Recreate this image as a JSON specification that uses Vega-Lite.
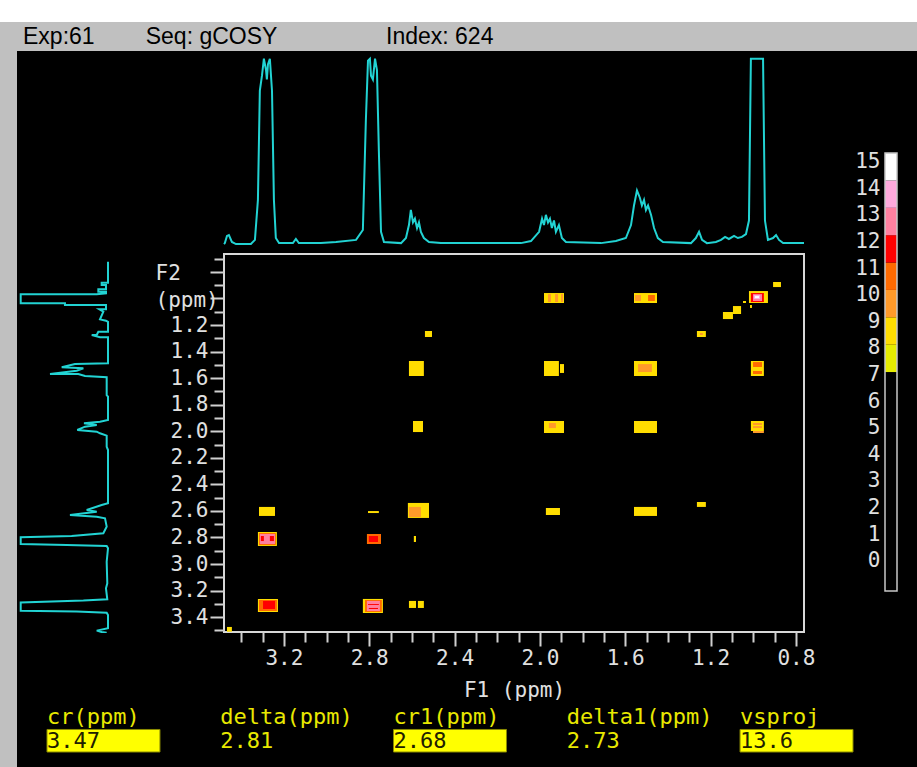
{
  "$schema": "https://vega.github.io/schema/vega-lite/v6.json",
  "background": "#000000",
  "padding": 0,
  "spacing": 0,
  "config": {"view": {"stroke": null}, "axis": {"grid": false}},
  "vconcat": [
    {"width": 917, "height": 22, "data": {"values": []}, "mark": "point", "view": {"fill": "#ffffff", "stroke": null}},
    {"width": 917, "height": 29, "view": {"fill": "#c0c0c0", "stroke": null},
     "data": {"values": [{"t": "Exp:61\u00a0\u00a0\u00a0\u00a0\u00a0\u00a0\u00a0\u00a0Seq: gCOSY\u00a0\u00a0\u00a0\u00a0\u00a0\u00a0\u00a0\u00a0\u00a0\u00a0\u00a0\u00a0\u00a0\u00a0\u00a0\u00a0\u00a0Index: 624"}]},
     "mark": {"type": "text", "align": "left", "baseline": "middle", "font": "Liberation Sans", "fontSize": 23, "color": "#000000"},
     "encoding": {
       "x": {"field": "t", "type": "nominal", "bandPosition": 0, "scale": {"type": "band", "paddingInner": 0, "paddingOuter": 0.0264}, "axis": null},
       "text": {"field": "t"}
     }},
    {"hconcat": [
      {"width": 17, "height": 655, "data": {"values": []}, "mark": "point", "view": {"fill": "#c0c0c0", "stroke": null}},
      {"width": 96, "height": 582,
       "data": {"values": [
         {"i":1,"ppm":0.716,"v":0},{"i":2,"ppm":0.874,"v":0},{"i":3,"ppm":0.874,"v":7.2},{"i":4,"ppm":0.891,"v":7.2},
         {"i":5,"ppm":0.891,"v":2.3},{"i":6,"ppm":0.924,"v":2.3},{"i":7,"ppm":0.924,"v":11},{"i":8,"ppm":0.942,"v":11},
         {"i":9,"ppm":0.942,"v":2.3},{"i":10,"ppm":0.954,"v":2.3},{"i":11,"ppm":0.961,"v":12.8},{"i":12,"ppm":0.961,"v":99.2},
         {"i":13,"ppm":1.029,"v":99.2},{"i":14,"ppm":1.029,"v":48.9},{"i":15,"ppm":1.042,"v":48.9},{"i":16,"ppm":1.042,"v":2.3},
         {"i":17,"ppm":1.074,"v":2.3},{"i":18,"ppm":1.074,"v":9.9},{"i":19,"ppm":1.092,"v":5.3},{"i":20,"ppm":1.150,"v":9.1},
         {"i":21,"ppm":1.160,"v":2.3},{"i":22,"ppm":1.168,"v":0},{"i":23,"ppm":1.243,"v":0},{"i":24,"ppm":1.243,"v":11},
         {"i":25,"ppm":1.268,"v":12.8},{"i":26,"ppm":1.268,"v":18.5},{"i":27,"ppm":1.285,"v":9.1},{"i":28,"ppm":1.285,"v":0},
         {"i":29,"ppm":1.481,"v":0},{"i":30,"ppm":1.486,"v":37.5},{"i":31,"ppm":1.511,"v":52.6},{"i":32,"ppm":1.519,"v":28},
         {"i":33,"ppm":1.537,"v":35.6},{"i":34,"ppm":1.561,"v":65.9},{"i":35,"ppm":1.561,"v":33.7},{"i":36,"ppm":1.577,"v":26.1},
         {"i":37,"ppm":1.586,"v":1.5},{"i":38,"ppm":1.720,"v":1.5},{"i":39,"ppm":1.732,"v":0},{"i":40,"ppm":1.908,"v":0},
         {"i":41,"ppm":1.921,"v":9.1},{"i":42,"ppm":1.933,"v":27.3},{"i":43,"ppm":1.945,"v":12.8},{"i":44,"ppm":1.958,"v":26.1},
         {"i":45,"ppm":1.983,"v":34.9},{"i":46,"ppm":1.996,"v":12.8},{"i":47,"ppm":2.008,"v":9.1},{"i":48,"ppm":2.026,"v":1.5},
         {"i":49,"ppm":2.109,"v":1.5},{"i":50,"ppm":2.134,"v":0},{"i":51,"ppm":2.535,"v":0},{"i":52,"ppm":2.548,"v":7.2},
         {"i":53,"ppm":2.586,"v":24.2},{"i":54,"ppm":2.598,"v":12.8},{"i":55,"ppm":2.623,"v":43.2},{"i":56,"ppm":2.636,"v":12.8},
         {"i":57,"ppm":2.648,"v":3.4},{"i":58,"ppm":2.711,"v":1.5},{"i":59,"ppm":2.761,"v":5.3},{"i":60,"ppm":2.781,"v":41.3},
         {"i":61,"ppm":2.791,"v":99.2},{"i":62,"ppm":2.841,"v":99.2},{"i":63,"ppm":2.849,"v":46.9},{"i":64,"ppm":2.857,"v":1.5},
         {"i":65,"ppm":2.874,"v":0},{"i":66,"ppm":2.975,"v":1.5},{"i":67,"ppm":3.138,"v":0.8},{"i":68,"ppm":3.175,"v":2.3},
         {"i":69,"ppm":3.258,"v":0.8},{"i":70,"ppm":3.268,"v":28},{"i":71,"ppm":3.283,"v":99.2},{"i":72,"ppm":3.344,"v":99.2},
         {"i":73,"ppm":3.351,"v":35.6},{"i":74,"ppm":3.359,"v":1.5},{"i":75,"ppm":3.376,"v":0},{"i":76,"ppm":3.476,"v":0},
         {"i":77,"ppm":3.494,"v":12.8},{"i":78,"ppm":3.505,"v":7.2},{"i":79,"ppm":3.51,"v":1.5}
       ]},
       "mark": {"type": "line", "color": "#22d3d3", "strokeWidth": 2, "clip": true},
       "encoding": {
         "x": {"field": "v", "type": "quantitative", "scale": {"domain": [-5.68, 103.4], "reverse": true, "nice": false, "zero": false}, "axis": null},
         "y": {"field": "ppm", "type": "quantitative", "scale": {"domain": [-0.871, 3.512], "reverse": true, "nice": false, "zero": false}, "axis": null},
         "order": {"field": "i", "type": "quantitative"}
       }},
      {"vconcat": [
        {"width": 580, "height": 194,
         "data": {"values": [
           {"x":3.481,"v":0.5},{"x":3.477,"v":1},{"x":3.467,"v":4.8},{"x":3.458,"v":5.3},{"x":3.444,"v":1.6},{"x":3.425,"v":0.5},
           {"x":3.355,"v":0.5},{"x":3.336,"v":2.7},{"x":3.322,"v":24},{"x":3.313,"v":82},{"x":3.303,"v":90},{"x":3.294,"v":99},
           {"x":3.284,"v":93},{"x":3.280,"v":88},{"x":3.275,"v":96},{"x":3.266,"v":99},{"x":3.256,"v":82},{"x":3.247,"v":24},
           {"x":3.238,"v":3.7},{"x":3.223,"v":1},{"x":3.158,"v":1},{"x":3.144,"v":3.2},{"x":3.130,"v":1},{"x":3.027,"v":1},
           {"x":2.956,"v":1.6},{"x":2.862,"v":2.7},{"x":2.830,"v":8},{"x":2.816,"v":66},{"x":2.806,"v":98},{"x":2.797,"v":99},
           {"x":2.792,"v":90},{"x":2.783,"v":88},{"x":2.773,"v":99},{"x":2.764,"v":93},{"x":2.755,"v":50},{"x":2.745,"v":7},
           {"x":2.731,"v":1.6},{"x":2.651,"v":1},{"x":2.628,"v":3.7},{"x":2.614,"v":10.6},{"x":2.605,"v":18.6},{"x":2.595,"v":12},
           {"x":2.586,"v":14},{"x":2.576,"v":9},{"x":2.567,"v":12},{"x":2.558,"v":7},{"x":2.544,"v":3.7},{"x":2.520,"v":1.6},
           {"x":2.464,"v":1},{"x":2.089,"v":1},{"x":2.042,"v":2.1},{"x":2.004,"v":7},{"x":1.990,"v":14},{"x":1.981,"v":10.6},
           {"x":1.972,"v":16},{"x":1.962,"v":12},{"x":1.953,"v":14},{"x":1.944,"v":9},{"x":1.934,"v":13},{"x":1.925,"v":7},
           {"x":1.911,"v":10.6},{"x":1.897,"v":3.7},{"x":1.878,"v":1.6},{"x":1.714,"v":1},{"x":1.644,"v":2.1},{"x":1.597,"v":3.7},
           {"x":1.573,"v":10.6},{"x":1.559,"v":21},{"x":1.545,"v":29},{"x":1.531,"v":25},{"x":1.522,"v":21},{"x":1.512,"v":24},
           {"x":1.503,"v":18.6},{"x":1.493,"v":21},{"x":1.479,"v":16},{"x":1.465,"v":9},{"x":1.447,"v":3.7},{"x":1.423,"v":1.6},
           {"x":1.292,"v":1},{"x":1.269,"v":3.7},{"x":1.254,"v":7},{"x":1.240,"v":2.7},{"x":1.217,"v":1},{"x":1.175,"v":1.6},
           {"x":1.151,"v":2.7},{"x":1.132,"v":4.3},{"x":1.114,"v":3.2},{"x":1.090,"v":4.8},{"x":1.072,"v":3.7},{"x":1.053,"v":4.3},
           {"x":1.034,"v":5.8},{"x":1.020,"v":13},{"x":1.011,"v":99},{"x":0.954,"v":99},{"x":0.945,"v":13},{"x":0.931,"v":2.7},
           {"x":0.907,"v":3.7},{"x":0.893,"v":5.3},{"x":0.879,"v":2.7},{"x":0.860,"v":1},{"x":0.762,"v":1}
         ]},
         "mark": {"type": "line", "color": "#22d3d3", "strokeWidth": 2},
         "encoding": {
           "x": {"field": "x", "type": "quantitative", "scale": {"domain": [0.762, 3.481], "reverse": true, "nice": false, "zero": false}, "axis": null},
           "y": {"field": "v", "type": "quantitative", "scale": {"domain": [0, 103.1], "nice": false, "zero": false}, "axis": null}
         }},
        {"width": 580, "height": 378,
         "view": {"stroke": "#d8d8d8", "strokeWidth": 2},
         "data": {"values": [
           {"x1":2.539,"x2":2.506,"y1":1.245,"y2":1.290,"lev":9},
           {"x1":2.614,"x2":2.544,"y1":1.471,"y2":1.584,"lev":9},
           {"x1":2.595,"x2":2.548,"y1":1.923,"y2":2.006,"lev":9},
           {"x1":1.981,"x2":1.887,"y1":0.959,"y2":1.034,"lev":9},
           {"x1":1.559,"x2":1.451,"y1":0.959,"y2":1.034,"lev":9},
           {"x1":1.020,"x2":0.931,"y1":0.944,"y2":1.034,"lev":9},
           {"x1":0.907,"x2":0.870,"y1":0.876,"y2":0.914,"lev":9},
           {"x1":1.142,"x2":1.095,"y1":1.102,"y2":1.155,"lev":9},
           {"x1":1.095,"x2":1.057,"y1":1.057,"y2":1.117,"lev":9},
           {"x1":1.048,"x2":1.034,"y1":1.019,"y2":1.034,"lev":9},
           {"x1":1.015,"x2":1.006,"y1":1.049,"y2":1.072,"lev":9},
           {"x1":1.264,"x2":1.222,"y1":1.245,"y2":1.290,"lev":9},
           {"x1":1.981,"x2":1.911,"y1":1.471,"y2":1.584,"lev":9},
           {"x1":1.906,"x2":1.887,"y1":1.494,"y2":1.561,"lev":9},
           {"x1":1.559,"x2":1.451,"y1":1.471,"y2":1.584,"lev":9},
           {"x1":1.011,"x2":0.950,"y1":1.471,"y2":1.584,"lev":9},
           {"x1":1.981,"x2":1.887,"y1":1.923,"y2":2.013,"lev":9},
           {"x1":1.559,"x2":1.451,"y1":1.923,"y2":2.013,"lev":9},
           {"x1":1.011,"x2":0.950,"y1":1.923,"y2":1.998,"lev":9},
           {"x1":3.317,"x2":3.242,"y1":2.570,"y2":2.638,"lev":9},
           {"x1":2.806,"x2":2.755,"y1":2.601,"y2":2.616,"lev":9},
           {"x1":2.619,"x2":2.520,"y1":2.540,"y2":2.653,"lev":9},
           {"x1":3.322,"x2":3.233,"y1":2.759,"y2":2.864,"lev":9},
           {"x1":2.591,"x2":2.581,"y1":2.789,"y2":2.834,"lev":9},
           {"x1":3.322,"x2":3.228,"y1":3.263,"y2":3.361,"lev":9},
           {"x1":2.830,"x2":2.736,"y1":3.263,"y2":3.369,"lev":9},
           {"x1":2.614,"x2":2.581,"y1":3.278,"y2":3.331,"lev":9},
           {"x1":2.572,"x2":2.544,"y1":3.278,"y2":3.331,"lev":9},
           {"x1":3.467,"x2":3.444,"y1":3.474,"y2":3.510,"lev":9},
           {"x1":1.972,"x2":1.906,"y1":2.578,"y2":2.631,"lev":9},
           {"x1":1.559,"x2":1.451,"y1":2.570,"y2":2.638,"lev":9},
           {"x1":1.264,"x2":1.222,"y1":2.533,"y2":2.570,"lev":9},
           {"x1":1.962,"x2":1.948,"y1":0.967,"y2":1.027,"lev":10},
           {"x1":1.929,"x2":1.915,"y1":0.967,"y2":1.027,"lev":10},
           {"x1":1.901,"x2":1.892,"y1":0.967,"y2":1.027,"lev":10},
           {"x1":1.554,"x2":1.526,"y1":0.974,"y2":1.019,"lev":10},
           {"x1":1.493,"x2":1.461,"y1":0.974,"y2":1.019,"lev":11},
           {"x1":1.011,"x2":0.950,"y1":0.959,"y2":1.027,"lev":12},
           {"x1":1.001,"x2":0.959,"y1":0.967,"y2":1.019,"lev":13},
           {"x1":0.997,"x2":0.968,"y1":0.974,"y2":1.004,"lev":14},
           {"x1":0.992,"x2":0.973,"y1":0.982,"y2":0.997,"lev":15},
           {"x1":1.250,"x2":1.236,"y1":1.260,"y2":1.275,"lev":10},
           {"x1":1.540,"x2":1.475,"y1":1.494,"y2":1.554,"lev":10},
           {"x1":1.001,"x2":0.959,"y1":1.479,"y2":1.516,"lev":11},
           {"x1":1.001,"x2":0.959,"y1":1.546,"y2":1.569,"lev":11},
           {"x1":1.958,"x2":1.925,"y1":1.938,"y2":1.976,"lev":10},
           {"x1":1.001,"x2":0.959,"y1":1.938,"y2":1.953,"lev":10},
           {"x1":1.001,"x2":0.959,"y1":1.961,"y2":1.976,"lev":10},
           {"x1":1.001,"x2":0.950,"y1":1.998,"y2":2.013,"lev":10},
           {"x1":2.614,"x2":2.558,"y1":2.570,"y2":2.646,"lev":10},
           {"x1":3.317,"x2":3.238,"y1":2.767,"y2":2.857,"lev":11},
           {"x1":3.313,"x2":3.242,"y1":2.774,"y2":2.849,"lev":13},
           {"x1":3.308,"x2":3.294,"y1":2.789,"y2":2.827,"lev":12},
           {"x1":3.266,"x2":3.247,"y1":2.789,"y2":2.827,"lev":12},
           {"x1":2.811,"x2":2.745,"y1":2.774,"y2":2.849,"lev":11},
           {"x1":2.802,"x2":2.759,"y1":2.789,"y2":2.834,"lev":12},
           {"x1":3.317,"x2":3.233,"y1":3.271,"y2":3.354,"lev":11},
           {"x1":3.298,"x2":3.242,"y1":3.278,"y2":3.339,"lev":12},
           {"x1":2.820,"x2":2.741,"y1":3.271,"y2":3.361,"lev":11},
           {"x1":2.811,"x2":2.750,"y1":3.278,"y2":3.354,"lev":13},
           {"x1":2.806,"x2":2.755,"y1":3.301,"y2":3.308,"lev":12},
           {"x1":2.802,"x2":2.759,"y1":3.331,"y2":3.339,"lev":12}
         ]},
         "mark": {"type": "rect"},
         "encoding": {
           "x": {"field": "x1", "type": "quantitative",
                 "scale": {"domain": [0.762, 3.481], "reverse": true, "nice": false, "zero": false},
                 "axis": {"values": [3.4,3.3,3.2,3.1,3.0,2.9,2.8,2.7,2.6,2.5,2.4,2.3,2.2,2.1,2.0,1.9,1.8,1.7,1.6,1.5,1.4,1.3,1.2,1.1,1.0,0.9,0.8],
                          "labelExpr": "round(datum.value*10)%4===0 ? format(datum.value,'.1f') : ''",
                          "tickSize": {"condition": {"test": "round(datum.value*10)%4!==0", "value": 10}, "value": 14},
                          "tickColor": "#d0d0d0", "tickWidth": 2, "domain": false,
                          "labelFont": "DejaVu Sans Mono", "labelFontSize": 21, "labelColor": "#e0e0e0", "labelPadding": 1,
                          "labelFlush": false, "labelOverlap": false,
                          "title": "F1 (ppm)", "titleFont": "DejaVu Sans Mono", "titleFontSize": 21, "titleFontWeight": "normal",
                          "titleColor": "#e0e0e0", "titlePadding": 11}},
           "x2": {"field": "x2"},
           "y": {"field": "y1", "type": "quantitative",
                 "scale": {"domain": [0.665, 3.512], "reverse": true, "nice": false, "zero": false},
                 "axis": {"values": [0.7,0.8,0.9,1.0,1.1,1.2,1.3,1.4,1.5,1.6,1.7,1.8,1.9,2.0,2.1,2.2,2.3,2.4,2.5,2.6,2.7,2.8,2.9,3.0,3.1,3.2,3.3,3.4,3.5],
                          "labelExpr": "(round(datum.value*10)%2===0 && round(datum.value*10)>=12) ? format(datum.value,'.1f') : ''",
                          "tickSize": {"condition": {"test": "round(datum.value*10)%2!==0", "value": 10}, "value": 14},
                          "tickColor": "#d0d0d0", "tickWidth": 2, "domain": false,
                          "labelFont": "DejaVu Sans Mono", "labelFontSize": 21, "labelColor": "#e0e0e0", "labelPadding": 2,
                          "labelOverlap": false, "labelFlush": false,
                          "minExtent": 110, "maxExtent": 110,
                          "title": ["F2", "(ppm)"], "titleAngle": 0, "titleAlign": "left", "titleBaseline": "top",
                          "titleX": -69, "titleY": 8.5, "titleLineHeight": 26.6,
                          "titleFont": "DejaVu Sans Mono", "titleFontSize": 21, "titleFontWeight": "normal", "titleColor": "#e0e0e0"}},
           "y2": {"field": "y2"},
           "color": {"field": "lev", "type": "ordinal",
                     "scale": {"domain": [0,1,2,3,4,5,6,7,8,9,10,11,12,13,14,15],
                               "range": ["#000000","#000000","#000000","#000000","#000000","#000000","#000000","#000000","#e6ec00","#ffdd00","#ff9a2a","#ff6a00","#ff0000","#ff80a0","#ffaadd","#ffffff"]},
                     "legend": null}
         }}
      ], "spacing": -3},
      {"width": 12, "height": 540,
       "layer": [
         {"data": {"values": [
            {"lev":0,"lo":0,"hi":1},{"lev":1,"lo":1,"hi":2},{"lev":2,"lo":2,"hi":3},{"lev":3,"lo":3,"hi":4},
            {"lev":4,"lo":4,"hi":5},{"lev":5,"lo":5,"hi":6},{"lev":6,"lo":6,"hi":7},{"lev":7,"lo":7,"hi":8},
            {"lev":8,"lo":8,"hi":9},{"lev":9,"lo":9,"hi":10},{"lev":10,"lo":10,"hi":11},{"lev":11,"lo":11,"hi":12},
            {"lev":12,"lo":12,"hi":13},{"lev":13,"lo":13,"hi":14},{"lev":14,"lo":14,"hi":15},{"lev":15,"lo":15,"hi":16}
          ]},
          "mark": {"type": "rect"},
          "encoding": {
            "y": {"field": "lo", "type": "quantitative", "scale": {"domain": [0, 19.73], "nice": false, "zero": false},
                  "axis": {"values": [1.107,2.079,3.050,4.022,4.994,5.966,6.937,7.909,8.881,9.852,10.824,11.796,12.767,13.739,14.711,15.683],
                           "labelExpr": "round((datum.value-1.107)/0.9717)", "ticks": false, "tickSize": 0, "domain": false,
                           "labelFont": "DejaVu Sans Mono", "labelFontSize": 21, "labelColor": "#e0e0e0", "labelPadding": 5,
                           "labelOverlap": false, "labelFlush": false, "labelBound": false, "minExtent": 69, "maxExtent": 69, "title": null}},
            "y2": {"field": "hi"},
            "color": {"field": "lev", "type": "ordinal",
                      "scale": {"domain": [0,1,2,3,4,5,6,7,8,9,10,11,12,13,14,15],
                                "range": ["#000000","#000000","#000000","#000000","#000000","#000000","#000000","#000000","#e6ec00","#ffdd00","#ff9a2a","#ff6a00","#ff0000","#ff80a0","#ffaadd","#ffffff"]},
                      "legend": null}
          }},
         {"data": {"values": [{"lo": 0, "hi": 16}]},
          "mark": {"type": "rect", "fill": "transparent", "stroke": "#c8c8c8", "strokeWidth": 1.5},
          "encoding": {
            "y": {"field": "lo", "type": "quantitative", "scale": {"domain": [0, 19.73], "nice": false, "zero": false},
                  "axis": {"values": [1.107,2.079,3.050,4.022,4.994,5.966,6.937,7.909,8.881,9.852,10.824,11.796,12.767,13.739,14.711,15.683],
                           "labelExpr": "round((datum.value-1.107)/0.9717)", "ticks": false, "tickSize": 0, "domain": false,
                           "labelFont": "DejaVu Sans Mono", "labelFontSize": 21, "labelColor": "#e0e0e0", "labelPadding": 5,
                           "labelOverlap": false, "labelFlush": false, "labelBound": false, "minExtent": 69, "maxExtent": 69, "title": null}},
            "y2": {"field": "hi"}
          }}
       ]}
    ], "spacing": 0},
    {"hconcat": [
      {"width": 17, "height": 61, "data": {"values": []}, "mark": "point", "view": {"fill": "#c0c0c0", "stroke": null}},
      {"width": 866, "height": 46,
       "data": {"values": [
         {"name": "cr(ppm)", "val": "3.47", "hl": true},
         {"name": "delta(ppm)", "val": "2.81", "hl": false},
         {"name": "cr1(ppm)", "val": "2.68", "hl": true},
         {"name": "delta1(ppm)", "val": "2.73", "hl": false},
         {"name": "vsproj", "val": "13.6", "hl": true}
       ]},
       "encoding": {
         "x": {"field": "name", "type": "nominal", "bandPosition": 0,
               "scale": {"type": "band", "domain": ["cr(ppm)", "delta(ppm)", "cr1(ppm)", "delta1(ppm)", "vsproj"], "paddingInner": 0.348, "paddingOuter": 0.1731},
               "axis": null}
       },
       "layer": [
         {"mark": {"type": "text", "align": "left", "baseline": "middle", "font": "DejaVu Sans Mono", "fontSize": 22, "color": "#e8e800"},
          "encoding": {
            "y": {"datum": "label", "type": "nominal", "scale": {"type": "band", "domain": ["label", "value"], "paddingInner": 0.04, "paddingOuter": 0}, "axis": null},
            "text": {"field": "name"}
          }},
         {"transform": [{"filter": "datum.hl"}],
          "mark": {"type": "rect", "color": "#ffff00", "stroke": "#8a8a00", "strokeWidth": 1},
          "encoding": {
            "x": {"field": "name", "type": "nominal"},
            "y": {"datum": "value", "type": "nominal"}
          }},
         {"mark": {"type": "text", "align": "left", "baseline": "middle", "font": "DejaVu Sans Mono", "fontSize": 22},
          "encoding": {
            "y": {"datum": "value", "type": "nominal"},
            "text": {"field": "val"},
            "color": {"condition": {"test": "datum.hl", "value": "#202000"}, "value": "#e8e800"}
          }}
       ]}
    ], "spacing": 0}
  ]
}
